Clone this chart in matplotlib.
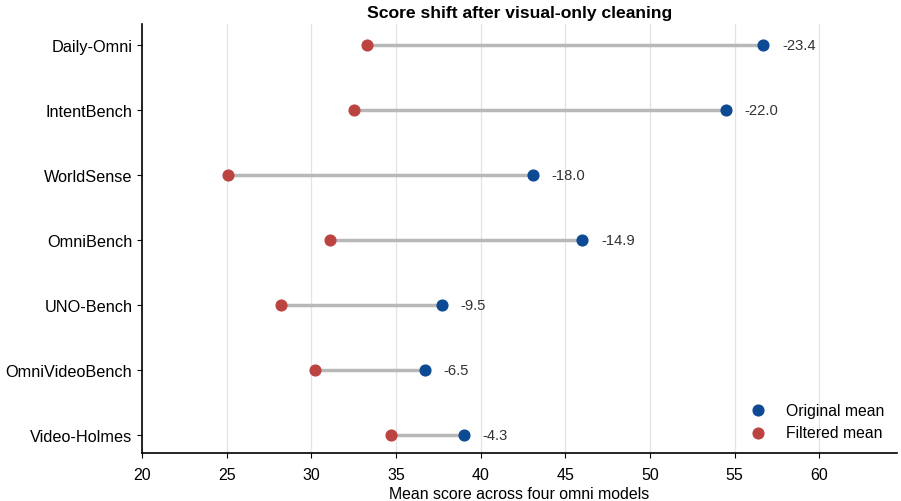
import numpy as np
import matplotlib.pyplot as plt

plt.rcParams['font.family'] = ['Liberation Sans', 'DejaVu Sans']

benchmarks = ['Daily-Omni', 'IntentBench', 'WorldSense', 'OmniBench',
              'UNO-Bench', 'OmniVideoBench', 'Video-Holmes']
original = [56.7, 54.5, 43.1, 46.0, 37.7, 36.7, 39.0]
filtered = [33.3, 32.5, 25.1, 31.1, 28.2, 30.2, 34.7]
deltas = ['-23.4', '-22.0', '-18.0', '-14.9', '-9.5', '-6.5', '-4.3']

blue = '#0d4a94'
red = '#bb4441'

fig = plt.figure(figsize=(9.01, 5.02), dpi=100)
ax = fig.add_axes([0.1576, 0.0956, 0.838, 0.8544])

y = np.arange(len(benchmarks))
ax.hlines(y, filtered, original, color='#b8b8b8', lw=2.5, zorder=1)
ax.scatter(original, y, s=60, color=blue, zorder=3, label='Original mean')
ax.scatter(filtered, y, s=60, color=red, zorder=3, label='Filtered mean')

for yi, xo, d in zip(y, original, deltas):
    ax.annotate(d, (xo, yi), xytext=(13.5, 0), textcoords='offset points',
                va='center', ha='left', fontsize=10.6, color='#333333')

ax.set_yticks(y)
ax.set_yticklabels(benchmarks, fontsize=11.7)
ax.set_ylim(6.28, -0.32)
ax.set_xlim(20, 64.6)
ax.set_xticks(np.arange(20, 61, 5))
ax.tick_params(axis='x', labelsize=11.5, pad=6.5)
ax.set_xlabel('Mean score across four omni models', fontsize=11.4, labelpad=3)
ax.set_title('Score shift after visual-only cleaning', fontsize=12.6,
             fontweight='bold', pad=5)
ax.grid(axis='x', color='#e3e3e3', lw=0.9)
ax.set_axisbelow(True)
for s in ['top', 'right']:
    ax.spines[s].set_visible(False)
for s in ['left', 'bottom']:
    ax.spines[s].set_linewidth(1.2)

ax.legend(loc='lower right', frameon=False, fontsize=11.3,
          handletextpad=0.8, borderaxespad=0.4)

fig.savefig('out.png', dpi=100)
